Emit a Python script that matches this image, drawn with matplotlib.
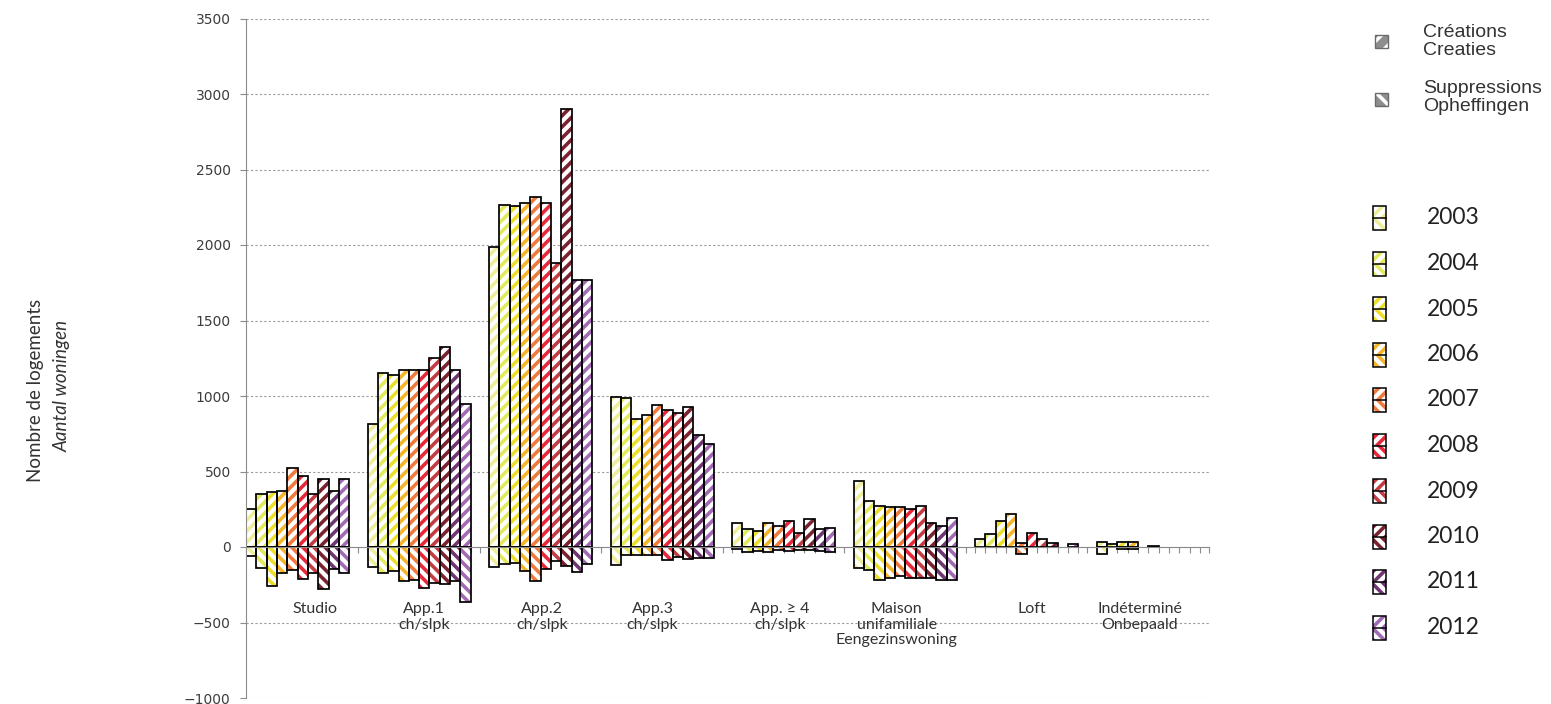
import numpy as np
import matplotlib.pyplot as plt
from matplotlib.patches import Rectangle

plt.rcParams['font.family'] = ['Lato', 'DejaVu Sans']
plt.rcParams['hatch.linewidth'] = 2.6

W, H = 1551, 704

# -------------------------
# Data
# -------------------------
years = [2003, 2004, 2005, 2006, 2007, 2008, 2009, 2010, 2011, 2012]
year_colors = ['#eeee9a', '#e2ea5c', '#ecdf2c', '#f5b52a', '#f07a3c',
               '#e8283a', '#c23c44', '#7a2230', '#6e3672', '#a26ab4']

categories = ["Studio", "App.1\nch/slpk", "App.2\nch/slpk", "App.3\nch/slpk",
              "App. \u2265 4\nch/slpk", "Maison\nunifamiliale\nEengezinswoning",
              "Loft", "Ind\u00e9termin\u00e9\nOnbepaald"]

# creations (positive), one value per year 2003..2012
cre_studio = [250, 350, 366, 373, 525, 470, 351, 448, 373, 448]
cre_app1 = [815, 1155, 1140, 1170, 1170, 1170, 1250, 1325, 1170, 950]
cre_app2 = [1990, 2265, 2255, 2280, 2320, 2280, 1880, 2900, 1770, 1770]
cre_app3 = [995, 985, 845, 875, 940, 905, 885, 930, 745, 680]
cre_app4 = [162, 118, 103, 162, 140, 173, 96, 186, 118, 129]
cre_maison = [438, 306, 271, 267, 267, 249, 271, 162, 140, 195]
cre_loft = [55, 84, 172, 216, 29, 93, 51, 29, 0, 18]
cre_indet = [33, 22, 33, 33, 0, 7, 0, 0, 0, 0]

# suppressions (drawn below zero)
sup_studio = [60, 137, 258, 170, 152, 214, 174, 278, 148, 170]
sup_app1 = [135, 170, 160, 225, 218, 270, 240, 245, 225, 365]
sup_app2 = [130, 114, 103, 160, 228, 148, 95, 126, 165, 114]
sup_app3 = [120, 50, 55, 55, 55, 88, 66, 77, 72, 72]
sup_app4 = [10, 30, 25, 30, 20, 28, 20, 18, 25, 35]
sup_maison = [138, 155, 221, 203, 193, 203, 208, 203, 219, 219]
sup_loft = [0, 0, 0, 0, 49, 0, 0, 0, 0, 0]
sup_indet = [44, 0, 15, 15, 0, 0, 0, 0, 0, 0]

creations = np.array([cre_studio, cre_app1, cre_app2, cre_app3,
                      cre_app4, cre_maison, cre_loft, cre_indet])
suppressions = np.array([sup_studio, sup_app1, sup_app2, sup_app3,
                         sup_app4, sup_maison, sup_loft, sup_indet])

HATCH_UP = '///'
HATCH_DOWN = '\\' * 3

# -------------------------
# Layout
# -------------------------
label_dx = [0.14, 0.04, 0.01, -0.08, -0.03, -0.07, 0.04, -0.07]

fig = plt.figure(figsize=(W / 100, H / 100), dpi=100)
ax = fig.add_axes([246 / W, 1 - 698 / H, (1209 - 246) / W, (698 - 18.5) / H])

bw = 0.085
idx = np.arange(len(categories))


def hatched_bars(x, h, color, hatch):
    m = h != 0
    ax.bar(x[m], h[m], bw, color='white', edgecolor=color, hatch=hatch,
           linewidth=0, zorder=2)
    ax.bar(x[m], h[m], bw, fill=False, edgecolor='black', linewidth=1.25,
           zorder=2.2)


for j in range(len(years)):
    xs = idx + (j - 4.5) * bw
    hatched_bars(xs, creations[:, j], year_colors[j], HATCH_UP)
    hatched_bars(xs, -suppressions[:, j], year_colors[j], HATCH_DOWN)

ax.set_xlim(-0.425, 7.5)
ax.set_ylim(-1000, 3500)
ax.set_axisbelow(True)

edges = np.concatenate([i - 0.425 + np.arange(11) * bw for i in idx] + [idx + 0.5])
ax.set_xticks(np.sort(edges))
ax.tick_params(axis='x', length=4, color='#8c8c8c', labelbottom=False)
ax.set_yticks(np.arange(-1000, 3501, 500))
ax.tick_params(axis='y', length=4, color='#8c8c8c', pad=7, labelsize=10,
               labelcolor='#3c3c3c')
for lab in ax.get_yticklabels():
    lab.set_family('DejaVu Sans')

ax.yaxis.grid(True, linestyle=(0, (2, 2)), color='#9a9a9a', linewidth=0.8)
ax.spines['top'].set_visible(False)
ax.spines['right'].set_visible(False)
ax.spines['left'].set_color('#8c8c8c')
ax.spines['bottom'].set_color('#8c8c8c')
ax.spines['bottom'].set_position(('data', 0))

for i, name in enumerate(categories):
    ax.text(i + label_dx[i], -365, name, ha='center', va='top', fontsize=11.5,
            color='#333333', linespacing=1.15)

fig.text(36 / W, 1 - 390 / H, "Nombre de logements", rotation=90,
         ha='center', va='center', fontsize=13.5, color='#333333')
fig.text(62 / W, 1 - 386 / H, "Aantal woningen", rotation=90, style='italic',
         ha='center', va='center', fontsize=13.5, color='#333333')

# -------------------------
# Legend (drawn in pixel space)
# -------------------------
lax = fig.add_axes([0, 0, 1, 1])
lax.set_xlim(0, W)
lax.set_ylim(H, 0)
lax.axis('off')

for yc, hatch in [(41, '//'), (99, '\\\\')]:
    lax.add_patch(Rectangle((1375, yc - 6.5), 13, 13, facecolor='#8e8e8e',
                            edgecolor='white', hatch=hatch, linewidth=0))
    lax.add_patch(Rectangle((1375, yc - 6.5), 13, 13, fill=False,
                            edgecolor='#6a6a6a', linewidth=1))
lax.text(1423, 41.5, "Cr\u00e9ations\nCreaties", va='center', ha='left',
         fontsize=14, family='Liberation Sans', color='#333333', linespacing=1.1)
lax.text(1423, 97.5, "Suppressions\nOpheffingen", va='center', ha='left',
         fontsize=14, family='Liberation Sans', color='#333333', linespacing=1.1)

for j, yr in enumerate(years):
    yc = 218 + j * 45.5
    lax.add_patch(Rectangle((1373, yc - 12), 13, 12, facecolor='white',
                            edgecolor=year_colors[j], hatch=HATCH_UP, linewidth=0))
    lax.add_patch(Rectangle((1373, yc), 13, 12, facecolor='white',
                            edgecolor=year_colors[j], hatch=HATCH_DOWN, linewidth=0))
    lax.add_patch(Rectangle((1373, yc - 12), 13, 24, fill=False,
                            edgecolor='black', linewidth=1.1))
    lax.plot([1373, 1386], [yc, yc], color='black', linewidth=1.1)
    lax.text(1427, yc, str(yr), va='center', ha='left', fontsize=16.5,
             color='#222222')

fig.savefig("out.png", dpi=100)
